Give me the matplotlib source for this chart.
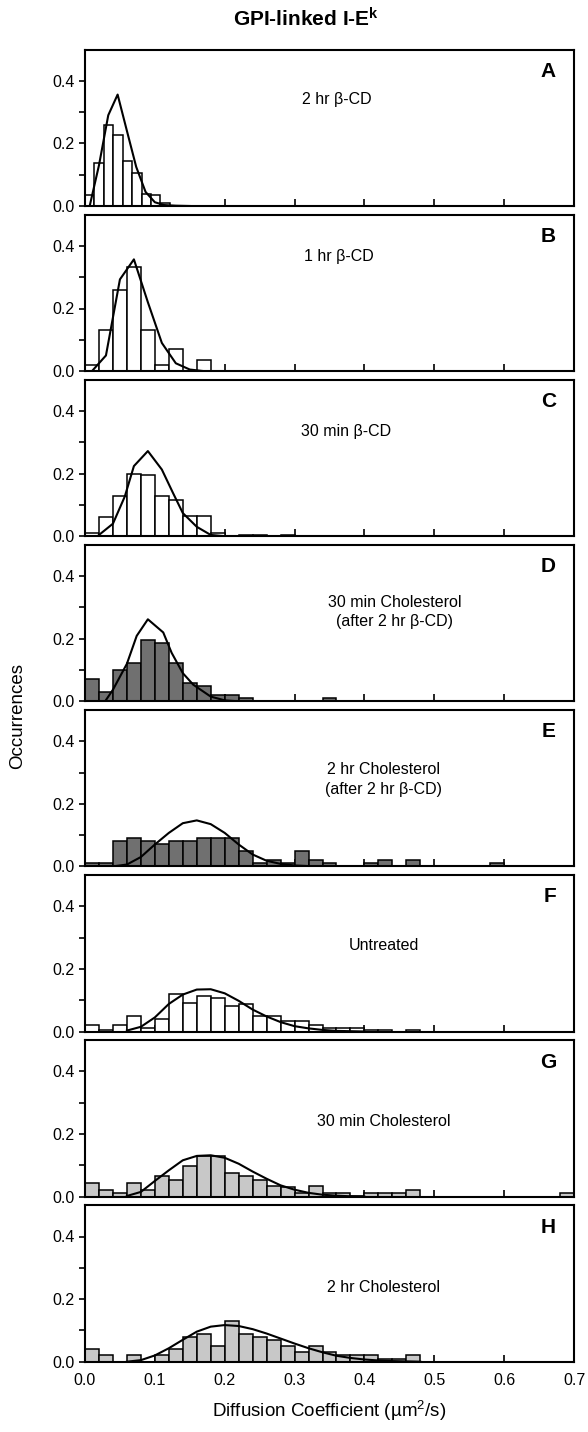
import matplotlib
matplotlib.use("Agg")
import matplotlib.pyplot as plt
import numpy as np

plt.rcParams['font.family'] = ['Liberation Sans', 'DejaVu Sans']
plt.rcParams['mathtext.fontset'] = 'custom'
plt.rcParams['mathtext.rm'] = 'Liberation Sans'
plt.rcParams['mathtext.bf'] = 'Liberation Sans:bold'
plt.rcParams['mathtext.it'] = 'Liberation Sans:italic'

# ---------------- data ----------------
panel_letters = ["A", "B", "C", "D", "E", "F", "G", "H"]
panel_labels = ["2 hr β-CD", "1 hr β-CD", "30 min β-CD",
                "30 min Cholesterol\n(after 2 hr β-CD)",
                "2 hr Cholesterol\n(after 2 hr β-CD)",
                "Untreated", "30 min Cholesterol", "2 hr Cholesterol"]
bin_widths = [0.0135, 0.02, 0.02, 0.02, 0.02, 0.02, 0.02, 0.02]

a_heights = [0.035, 0.138, 0.26, 0.228, 0.143, 0.106, 0.037, 0.035, 0.008]
b_heights = [0.02, 0.13, 0.26, 0.334, 0.13, 0.02, 0.07, 0.0, 0.035]
c_heights = [0.01, 0.06, 0.13, 0.20, 0.195, 0.13, 0.115, 0.065, 0.065, 0.01,
             0.0, 0.003, 0.003, 0.0, 0.003]
d_heights = [0.071, 0.03, 0.10, 0.123, 0.195, 0.185, 0.123, 0.06, 0.05, 0.02,
             0.02, 0.01, 0.0, 0.0, 0.0, 0.0, 0.0, 0.01]
e_heights = [0.01, 0.01, 0.08, 0.09, 0.08, 0.07, 0.08, 0.08, 0.09, 0.09,
             0.09, 0.05, 0.01, 0.02, 0.01, 0.05, 0.02, 0.01, 0.0, 0.0,
             0.01, 0.02, 0.0, 0.02, 0.0, 0.0, 0.0, 0.0, 0.0, 0.01]
f_heights = [0.02, 0.005, 0.02, 0.05, 0.01, 0.04, 0.12, 0.09, 0.115, 0.106,
             0.083, 0.088, 0.05, 0.05, 0.035, 0.032, 0.02, 0.01, 0.01, 0.01,
             0.005, 0.005, 0.0, 0.005]
g_heights = [0.044, 0.021, 0.01, 0.044, 0.02, 0.066, 0.054, 0.097, 0.13, 0.13,
             0.075, 0.065, 0.054, 0.033, 0.03, 0.012, 0.033, 0.01, 0.01, 0.003,
             0.01, 0.01, 0.01, 0.02, 0.0, 0.0, 0.0, 0.0, 0.0, 0.0,
             0.0, 0.0, 0.0, 0.0, 0.01]
h_heights = [0.04, 0.02, 0.0, 0.02, 0.0, 0.02, 0.04, 0.08, 0.09, 0.05,
             0.13, 0.09, 0.08, 0.07, 0.05, 0.03, 0.05, 0.03, 0.02, 0.02,
             0.02, 0.01, 0.01, 0.02]

a_fit_x = [0.0067, 0.02, 0.0333, 0.0467, 0.06, 0.0733, 0.0867, 0.10, 0.1133, 0.13, 0.15]
a_fit_y = [0.0, 0.13, 0.29, 0.356, 0.24, 0.125, 0.045, 0.012, 0.003, 0.001, 0.0]
b_fit_x = [0.01, 0.03, 0.05, 0.07, 0.09, 0.11, 0.13, 0.15, 0.17]
b_fit_y = [0.0, 0.05, 0.293, 0.357, 0.22, 0.09, 0.025, 0.005, 0.0]
c_fit_x = [0.02, 0.04, 0.057, 0.07, 0.09, 0.11, 0.126, 0.14, 0.16, 0.18, 0.20]
c_fit_y = [0.004, 0.04, 0.127, 0.224, 0.272, 0.213, 0.138, 0.074, 0.03, 0.004, 0.0]
d_fit_x = [0.03, 0.04, 0.06, 0.074, 0.09, 0.112, 0.124, 0.14, 0.155, 0.18, 0.20, 0.22]
d_fit_y = [0.004, 0.037, 0.12, 0.209, 0.262, 0.22, 0.155, 0.09, 0.053, 0.015, 0.003, 0.0]
e_fit_x = [0.04, 0.06, 0.08, 0.10, 0.12, 0.14, 0.16, 0.18, 0.20, 0.22, 0.24,
           0.26, 0.28, 0.30, 0.32, 0.34]
e_fit_y = [0.0, 0.006, 0.03, 0.07, 0.107, 0.138, 0.147, 0.135, 0.107, 0.07, 0.038,
           0.018, 0.008, 0.003, 0.001, 0.0]
f_fit_x = [0.06, 0.08, 0.10, 0.12, 0.14, 0.16, 0.18, 0.20, 0.22, 0.24, 0.26,
           0.28, 0.30, 0.32, 0.34, 0.36, 0.38, 0.40]
f_fit_y = [0.003, 0.015, 0.045, 0.088, 0.118, 0.134, 0.135, 0.122, 0.098, 0.07, 0.048,
           0.03, 0.017, 0.01, 0.005, 0.002, 0.001, 0.0]
g_fit_x = [0.06, 0.08, 0.10, 0.12, 0.14, 0.16, 0.18, 0.20, 0.22, 0.24, 0.26,
           0.28, 0.30, 0.32, 0.34, 0.36, 0.38, 0.40]
g_fit_y = [0.002, 0.015, 0.05, 0.084, 0.116, 0.13, 0.132, 0.124, 0.105, 0.08, 0.057,
           0.036, 0.022, 0.012, 0.006, 0.003, 0.001, 0.0]
h_fit_x = [0.06, 0.08, 0.10, 0.12, 0.14, 0.16, 0.18, 0.20, 0.22, 0.24, 0.26,
           0.28, 0.30, 0.32, 0.34, 0.36, 0.38, 0.40, 0.42, 0.44, 0.46, 0.48]
h_fit_y = [0.0, 0.005, 0.02, 0.043, 0.07, 0.096, 0.112, 0.117, 0.114, 0.104, 0.09,
           0.074, 0.058, 0.043, 0.03, 0.019, 0.012, 0.007, 0.004, 0.002, 0.001, 0.0]

x_ticks = [0.0, 0.1, 0.2, 0.3, 0.4, 0.5, 0.6, 0.7]
y_major = [0.0, 0.2, 0.4]
y_minor = [0.1, 0.3]

all_heights = [a_heights, b_heights, c_heights, d_heights,
               e_heights, f_heights, g_heights, h_heights]
all_fit_x = [a_fit_x, b_fit_x, c_fit_x, d_fit_x, e_fit_x, f_fit_x, g_fit_x, h_fit_x]
all_fit_y = [a_fit_y, b_fit_y, c_fit_y, d_fit_y, e_fit_y, f_fit_y, g_fit_y, h_fit_y]

# ---------------- style ----------------
fills = ["white", "white", "white", "#707070", "#707070", "white", "#c8c8c8", "#c8c8c8"]
label_pos = [(0.36, 0.34), (0.363, 0.365), (0.374, 0.335), (0.443, 0.285),
             (0.428, 0.278), (0.428, 0.275), (0.428, 0.24), (0.428, 0.237)]

W, H = 588, 1432
fig = plt.figure(figsize=(W / 100, H / 100), dpi=100)

left = 85 / W
right = 574 / W
top0 = 49.5
slot = 165.1
ph = 156.5

for i in range(8):
    top_px = top0 + i * slot
    ax = fig.add_axes([left, 1 - (top_px + ph) / H, right - left, ph / H])
    hts = all_heights[i]
    bw = bin_widths[i]
    edges = np.arange(len(hts)) * bw
    ax.bar(edges, hts, width=bw, align='edge', color=fills[i],
           edgecolor='black', linewidth=1.1, zorder=2)
    ax.plot(all_fit_x[i], all_fit_y[i], color='black', linewidth=1.5, zorder=3)
    ax.set_xlim(0, 0.7)
    ax.set_ylim(0, 0.5)
    ax.set_xticks(x_ticks)
    ax.set_yticks(y_major)
    ax.set_yticks(y_minor, minor=True)
    ax.set_yticklabels(["0.0", "0.2", "0.4"])
    ax.tick_params(axis='x', direction='in', length=5, width=1.2, labelsize=11.5, pad=8)
    ax.tick_params(axis='y', which='both', direction='out', length=4, width=1.2,
                   labelsize=11.5)
    if i < 7:
        ax.tick_params(axis='x', labelbottom=False)
    else:
        ax.set_xticklabels(["0.0", "0.1", "0.2", "0.3", "0.4", "0.5", "0.6", "0.7"])
        ax.set_xlabel("Diffusion Coefficient (µm$^2$/s)", fontsize=13.5, labelpad=8)
    for s in ax.spines.values():
        s.set_linewidth(1.5)
    ax.text(0.963, 0.86, panel_letters[i], transform=ax.transAxes, ha='right',
            va='center', fontsize=15, fontweight='bold')
    lx, ly = label_pos[i]
    ax.text(lx, ly, panel_labels[i], ha='center', va='center', fontsize=11.5,
            linespacing=1.4)

fig.text(0.52, 0.987, r"GPI-linked I-E$^\mathbf{k}$", ha='center', va='center',
         fontsize=15, fontweight='bold')
fig.text(0.03, 0.5, "Occurrences", rotation=90, ha='center', va='center', fontsize=13.5)

fig.savefig("out.png", dpi=100)
